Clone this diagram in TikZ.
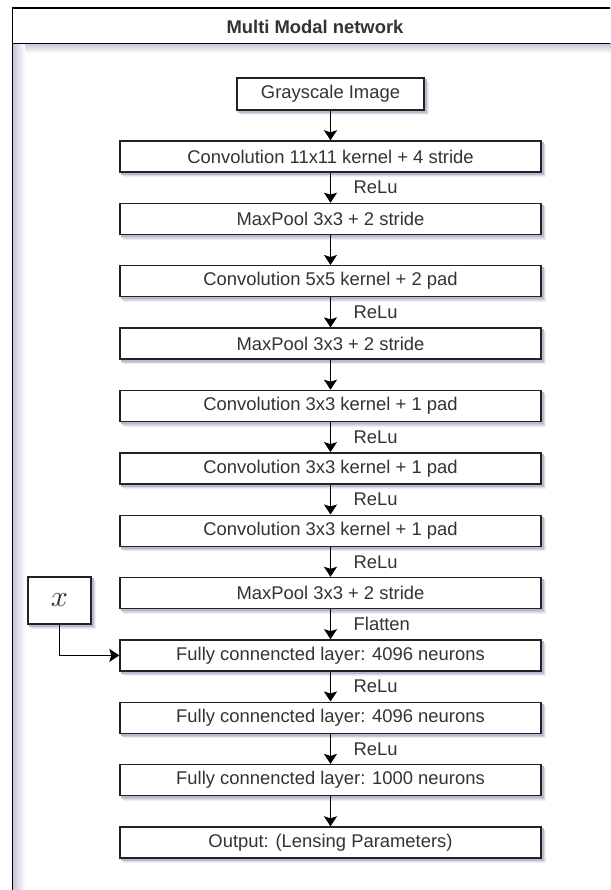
\documentclass[tikz,border=0pt]{standalone}
\usepackage{fontspec}
\setmainfont{Liberation Sans}
\usetikzlibrary{arrows.meta,backgrounds}

\definecolor{ink}{HTML}{333333}
\definecolor{edge}{HTML}{222222}
\definecolor{haze}{HTML}{C7C9D9}
\definecolor{shadeA}{HTML}{ECEDF3}
\definecolor{shadeB}{HTML}{DCDEE7}
\definecolor{shadeC}{HTML}{CACCDA}
\definecolor{shadeD}{HTML}{B8BBCD}

\tikzset{
  stagebox/.style={draw=edge, line width=1.4pt, fill=white,
      minimum width=421pt, minimum height=31pt, inner sep=0pt,
      font=\fontsize{18.4}{20}\selectfont, text=ink},
  inputbox/.style={stagebox, minimum width=187pt, minimum height=32pt},
  varbox/.style={draw=edge, line width=1.4pt, fill=white,
      minimum width=63pt, minimum height=47pt, inner sep=0pt, text=ink},
  flow/.style={draw=black, line width=1.4pt,
      -{Stealth[length=10pt, width=13pt, inset=2pt]}},
  steplabel/.style={anchor=west, xshift=22.5pt, inner sep=0pt,
      font=\fontsize{18.4}{20}\selectfont, text=ink},
}

% soft drop shadow behind a named box, built from stacked tinted copies
\newcommand{\boxshadow}[1]{%
  \fill[shadeA] ([shift={(4.5pt,-4.5pt)}]#1.south west) rectangle ([shift={(4.5pt,-4.5pt)}]#1.north east);
  \fill[shadeB] ([shift={(3.5pt,-3.5pt)}]#1.south west) rectangle ([shift={(3.5pt,-3.5pt)}]#1.north east);
  \fill[shadeC] ([shift={(2.7pt,-2.7pt)}]#1.south west) rectangle ([shift={(2.7pt,-2.7pt)}]#1.north east);
  \fill[shadeD] ([shift={(2pt,-2pt)}]#1.south west) rectangle ([shift={(2pt,-2pt)}]#1.north east);
}

\begin{document}
\begin{tikzpicture}[x=1pt, y=-1pt]
  \path[use as bounding box] (0,0) rectangle (610,890);
  \clip (0,0) rectangle (610,890);

  % container frame with its title bar
  \draw[line width=1.6pt, black] (12.5,900) |- (620,8.3);
  \draw[line width=1.6pt, black] (12.5,43.5) -- (620,43.5);
  \node[font=\bfseries\fontsize{18.4}{20}\selectfont, text=ink] (title) at (315,26.5) {Multi Modal network};

  % network stages
  \node[inputbox] (img) at (330.5,94) {Grayscale Image};
  \node[stagebox] (c1)  at (330.5,156.5) {Convolution 11x11 kernel + 4 stride};
  \node[stagebox] (p1)  at (330.5,218.9) {MaxPool 3x3 + 2 stride};
  \node[stagebox] (c2)  at (330.5,281.2) {Convolution 5x5 kernel + 2 pad};
  \node[stagebox] (p2)  at (330.5,343.6) {MaxPool 3x3 + 2 stride};
  \node[stagebox] (c3)  at (330.5,405.9) {Convolution 3x3 kernel + 1 pad};
  \node[stagebox] (c4)  at (330.5,468.3) {Convolution 3x3 kernel + 1 pad};
  \node[stagebox] (c5)  at (330.5,530.7) {Convolution 3x3 kernel + 1 pad};
  \node[stagebox] (p3)  at (330.5,593.0) {MaxPool 3x3 + 2 stride};
  \node[stagebox] (f1)  at (330.5,655.4) {Fully connencted layer: 4096 neurons};
  \node[stagebox] (f2)  at (330.5,717.7) {Fully connencted layer: 4096 neurons};
  \node[stagebox] (f3)  at (330.5,780.1) {Fully connencted layer: 1000 neurons};
  \node[stagebox] (out) at (330.5,842.5) {Output: (Lensing Parameters)};

  % extra input
  \node[varbox] (xin) at (59.5,600.5) {\scalebox{3.0}{$x$}};

  % connectors
  \draw[flow] (img) -- (c1);
  \draw[flow] (c1) -- node[steplabel] {ReLu} (p1);
  \draw[flow] (p1) -- (c2);
  \draw[flow] (c2) -- node[steplabel] {ReLu} (p2);
  \draw[flow] (p2) -- (c3);
  \draw[flow] (c3) -- node[steplabel] {ReLu} (c4);
  \draw[flow] (c4) -- node[steplabel] {ReLu} (c5);
  \draw[flow] (c5) -- node[steplabel] {ReLu} (p3);
  \draw[flow] (p3) -- node[steplabel] {Flatten} (f1);
  \draw[flow] (f1) -- node[steplabel] {ReLu} (f2);
  \draw[flow] (f2) -- node[steplabel] {ReLu} (f3);
  \draw[flow] (f3) -- (out);
  \draw[flow] (xin.south) |- (f1.west);

  % shadows and background tint, painted beneath everything else
  \begin{scope}[on background layer]
    \fill[white] (0,0) rectangle (610,890);
    \shade[top color=haze, bottom color=white] (13,44) rectangle (620,53);
    \shade[left color=haze, right color=white] (13,44) rectangle (25,900);
    \foreach \b in {img,c1,p1,c2,p2,c3,c4,c5,p3,f1,f2,f3,out,xin} {\boxshadow{\b}}
  \end{scope}
\end{tikzpicture}
\end{document}
